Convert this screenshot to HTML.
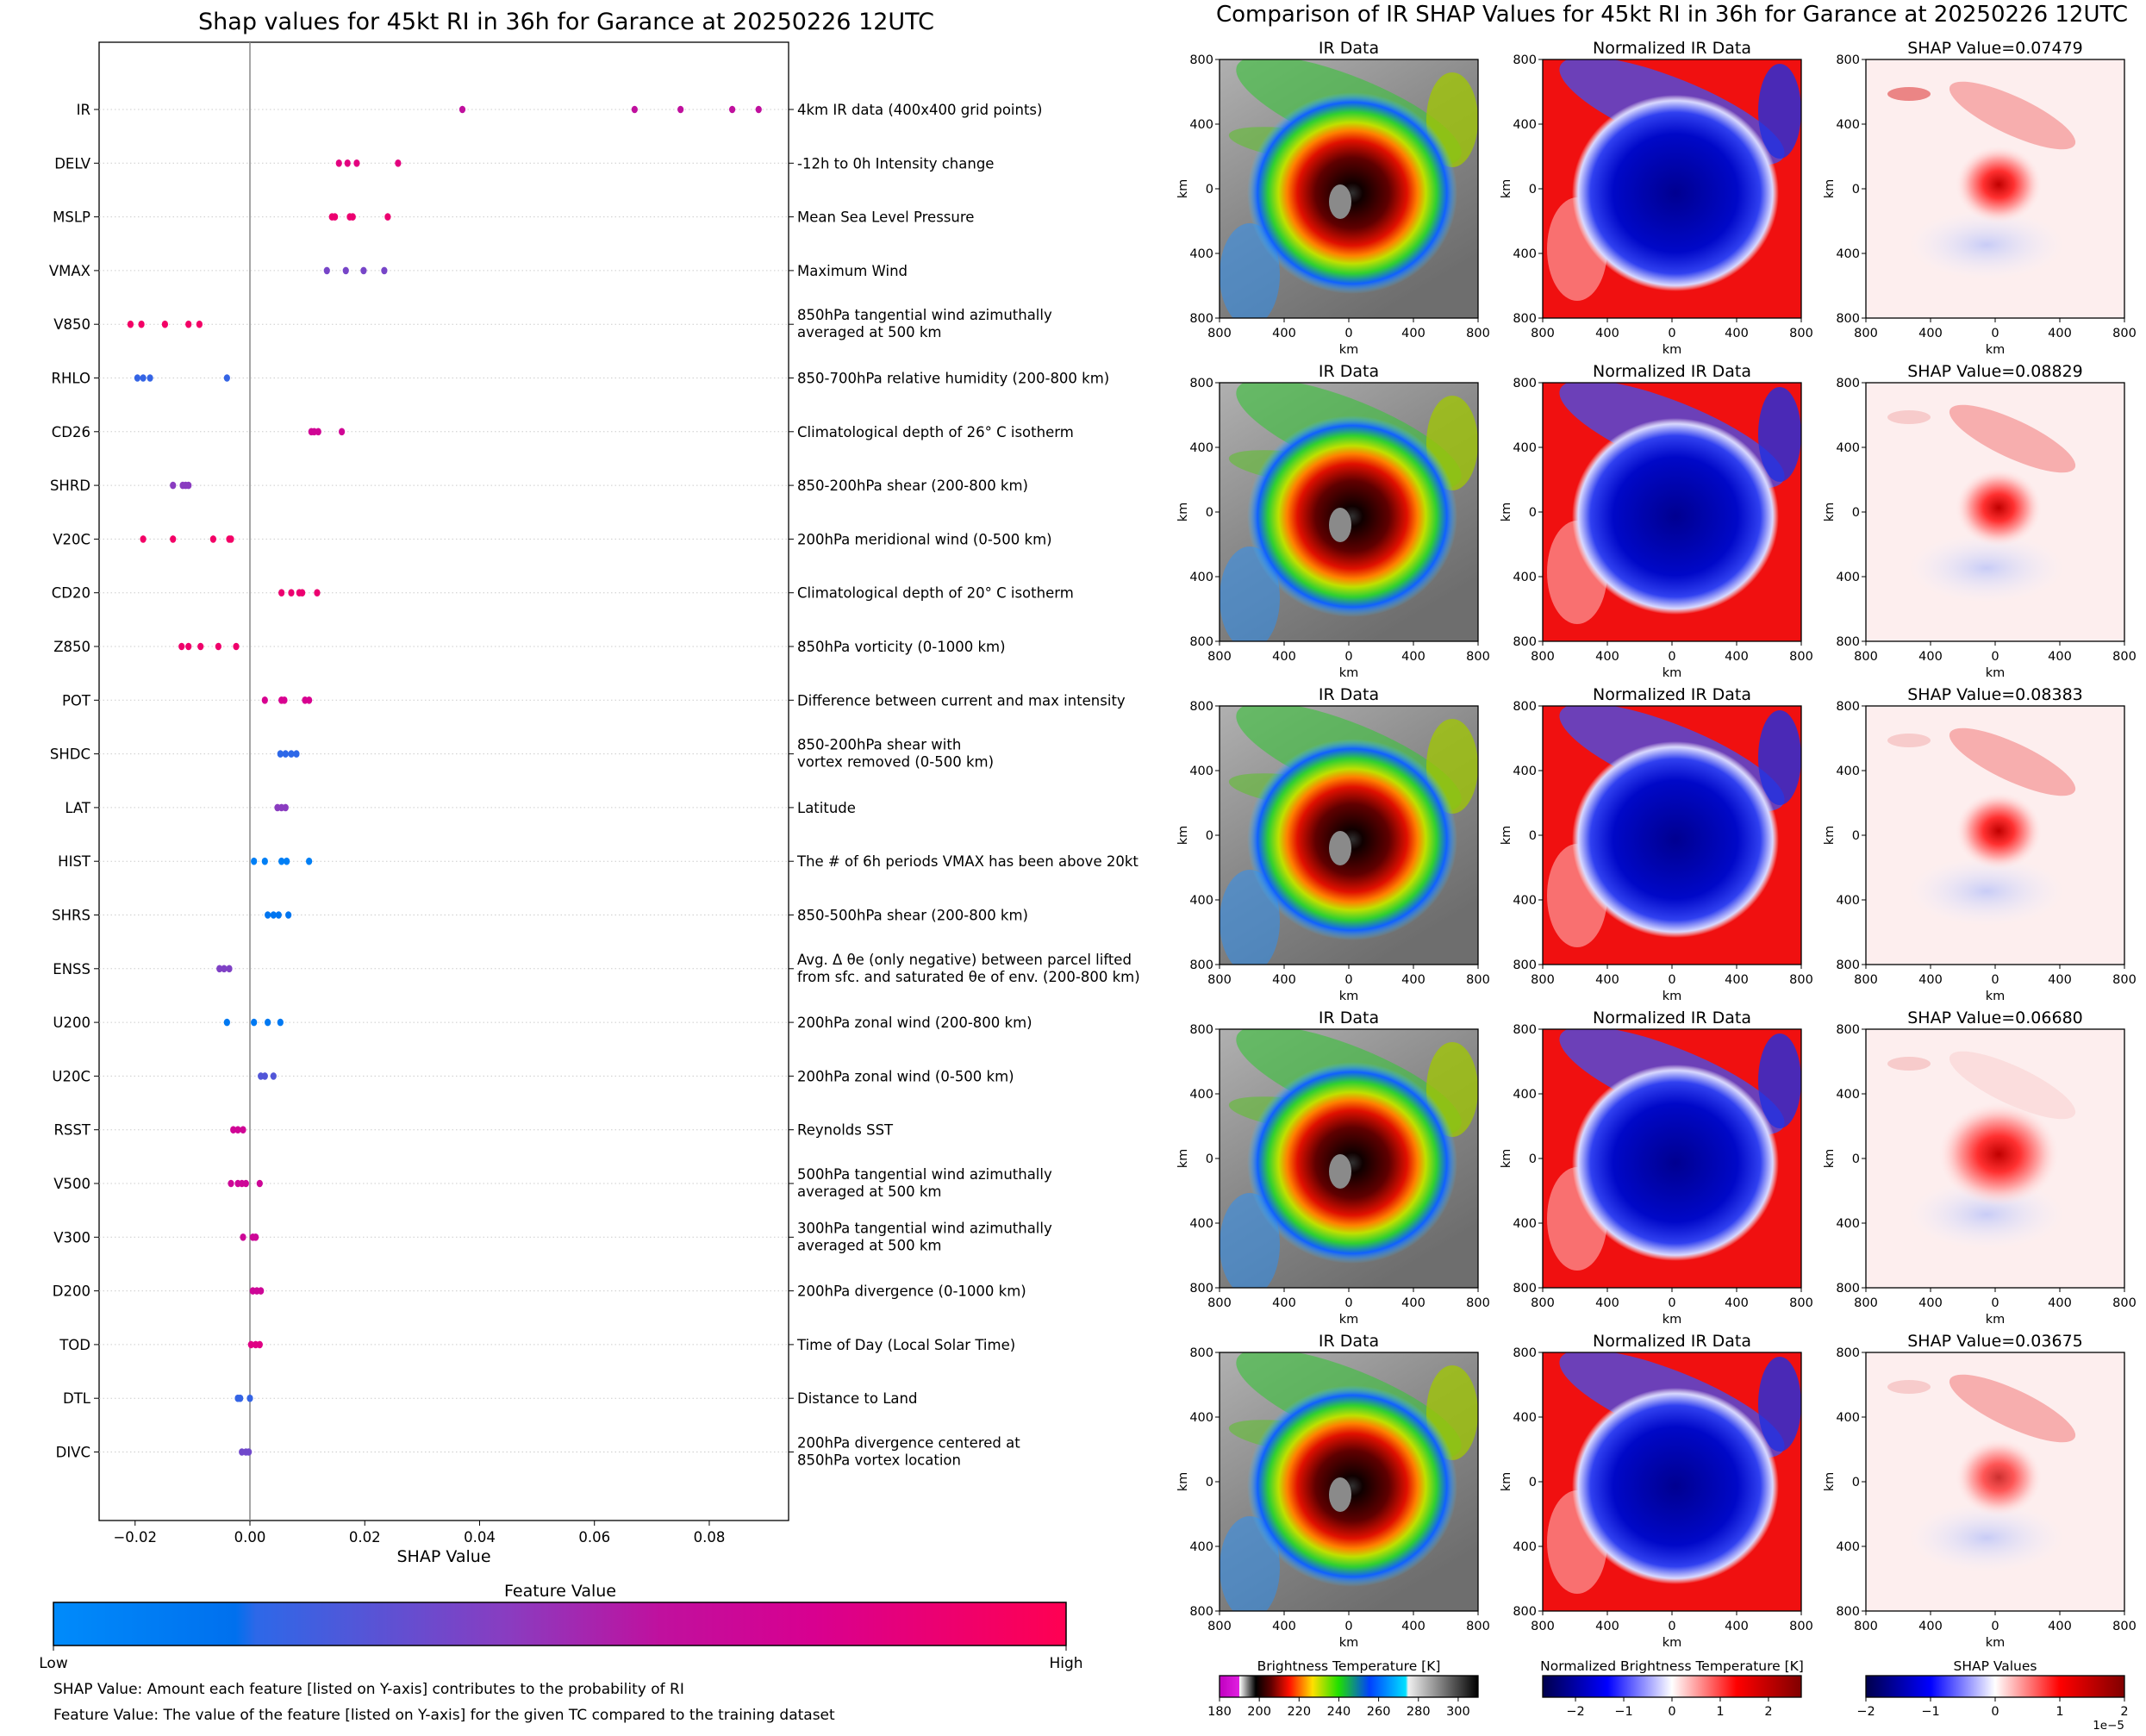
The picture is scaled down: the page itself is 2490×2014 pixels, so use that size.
<!DOCTYPE html>
<html><head><meta charset="utf-8"><style>
body{margin:0;background:#fff;}
svg text{font-family:"DejaVu Sans","Liberation Sans",sans-serif;fill:#000;}
</style></head><body>
<svg id="root" width="2490" height="2009" viewBox="0 0 2490 2009" xmlns="http://www.w3.org/2000/svg">
<defs>
<linearGradient id="fvgrad" x1="0" x2="1" y1="0" y2="0">
<stop offset="0" stop-color="#008bfb"/><stop offset="0.18" stop-color="#0070ee"/><stop offset="0.2" stop-color="#2d68e8"/><stop offset="0.45" stop-color="#8a3cc0"/><stop offset="0.6" stop-color="#c0109e"/><stop offset="0.75" stop-color="#d80090"/><stop offset="1" stop-color="#ff0052"/>
</linearGradient>
<linearGradient id="irgrad" x1="0" x2="1">
<stop offset="0" stop-color="#c000c0"/><stop offset="0.076" stop-color="#e020e0"/><stop offset="0.077" stop-color="#ffffff"/><stop offset="0.14" stop-color="#000"/><stop offset="0.2" stop-color="#600000"/><stop offset="0.27" stop-color="#ff1000"/><stop offset="0.36" stop-color="#ffe000"/><stop offset="0.46" stop-color="#20e000"/><stop offset="0.58" stop-color="#0040ff"/><stop offset="0.72" stop-color="#00e0ff"/><stop offset="0.73" stop-color="#f0f0f0"/><stop offset="1" stop-color="#000"/>
</linearGradient>
<linearGradient id="seisgrad" x1="0" x2="1">
<stop offset="0" stop-color="#00004c"/><stop offset="0.25" stop-color="#0000ff"/><stop offset="0.5" stop-color="#ffffff"/><stop offset="0.75" stop-color="#ff0000"/><stop offset="1" stop-color="#800000"/>
</linearGradient>
<linearGradient id="irbg" x1="0" y1="0" x2="0.6" y2="1">
<stop offset="0" stop-color="#b0b0b0"/><stop offset="0.5" stop-color="#8a8a8a"/><stop offset="1" stop-color="#6e6e6e"/>
</linearGradient>
<radialGradient id="irblob" cx="0.5" cy="0.5" r="0.5">
<stop offset="0" stop-color="#303030"/><stop offset="0.1" stop-color="#100000"/><stop offset="0.35" stop-color="#600000"/><stop offset="0.52" stop-color="#e01000"/><stop offset="0.62" stop-color="#ff8000"/><stop offset="0.7" stop-color="#c0e000"/><stop offset="0.8" stop-color="#30d030"/><stop offset="0.9" stop-color="#1060ff"/><stop offset="1" stop-color="#40c0ff" stop-opacity="0"/>
</radialGradient>
<radialGradient id="nblob" cx="0.5" cy="0.5" r="0.5">
<stop offset="0" stop-color="#000090"/><stop offset="0.6" stop-color="#0008c8"/><stop offset="0.82" stop-color="#3040f0"/><stop offset="0.94" stop-color="#d8d8ff"/><stop offset="1" stop-color="#ffffff" stop-opacity="0"/>
</radialGradient>
<radialGradient id="sblob" cx="0.5" cy="0.5" r="0.5">
<stop offset="0" stop-color="#c00000"/><stop offset="0.35" stop-color="#ff3030"/><stop offset="0.7" stop-color="#ffb0b0"/><stop offset="1" stop-color="#ffe8e8" stop-opacity="0"/>
</radialGradient>
<radialGradient id="sblue" cx="0.5" cy="0.5" r="0.5">
<stop offset="0" stop-color="#c8ccf6"/><stop offset="1" stop-color="#eeeefc" stop-opacity="0"/>
</radialGradient>
</defs>
<g id="left"></g>
<g id="right"></g>
</svg>
<script>
// ---------- SHAP beeswarm data ----------
const features = ["IR","DELV","MSLP","VMAX","V850","RHLO","CD26","SHRD","V20C","CD20","Z850","POT","SHDC","LAT","HIST","SHRS","ENSS","U200","U20C","RSST","V500","V300","D200","TOD","DTL","DIVC"];
const descriptions = [["4km IR data (400x400 grid points)"],["-12h to 0h Intensity change"],["Mean Sea Level Pressure"],["Maximum Wind"],["850hPa tangential wind azimuthally","averaged at 500 km"],["850-700hPa relative humidity (200-800 km)"],["Climatological depth of 26° C isotherm"],["850-200hPa shear (200-800 km)"],["200hPa meridional wind (0-500 km)"],["Climatological depth of 20° C isotherm"],["850hPa vorticity (0-1000 km)"],["Difference between current and max intensity"],["850-200hPa shear with","vortex removed (0-500 km)"],["Latitude"],["The # of 6h periods VMAX has been above 20kt"],["850-500hPa shear (200-800 km)"],["Avg. Δ θe (only negative) between parcel lifted","from sfc. and saturated θe of env. (200-800 km)"],["200hPa zonal wind (200-800 km)"],["200hPa zonal wind (0-500 km)"],["Reynolds SST"],["500hPa tangential wind azimuthally","averaged at 500 km"],["300hPa tangential wind azimuthally","averaged at 500 km"],["200hPa divergence (0-1000 km)"],["Time of Day (Local Solar Time)"],["Distance to Land"],["200hPa divergence centered at","850hPa vortex location"]];
const shapValues = [
[0.037,0.067,0.075,0.084,0.0886],
[0.0155,0.017,0.0186,0.0258],
[0.0143,0.0148,0.0174,0.0179,0.024],
[0.0134,0.0167,0.0198,0.0234],
[-0.0208,-0.0189,-0.0148,-0.0107,-0.0088],
[-0.0196,-0.0186,-0.0174,-0.004],
[0.0107,0.0112,0.0119,0.016],
[-0.0134,-0.0117,-0.0112,-0.0107],
[-0.0186,-0.0134,-0.0064,-0.0036,-0.0033],
[0.0055,0.0072,0.0086,0.0091,0.0117],
[-0.0119,-0.0107,-0.0086,-0.0055,-0.0024],
[0.0026,0.0055,0.006,0.0096,0.0103],
[0.0053,0.0062,0.0072,0.0081],
[0.0048,0.0055,0.0062],
[0.0007,0.0026,0.0055,0.0064,0.0103],
[0.0031,0.0041,0.005,0.0067],
[-0.0053,-0.0045,-0.0036],
[-0.004,0.0007,0.0031,0.0053],
[0.0019,0.0026,0.0041],
[-0.0029,-0.0021,-0.0012],
[-0.0033,-0.0021,-0.0014,-0.0007,0.0017],
[-0.0012,0.0005,0.001],
[0.0005,0.0012,0.0019],
[0.0002,0.001,0.0017],
[-0.0021,-0.0017,0.0],
[-0.0014,-0.0007,-0.0002]];
const featureValue = [0.6,0.82,0.88,0.4,0.92,0.22,0.7,0.45,0.92,0.88,0.9,0.75,0.2,0.45,0.08,0.15,0.42,0.12,0.3,0.7,0.68,0.68,0.68,0.8,0.22,0.38];
const xTicks = [-0.02,0.0,0.02,0.04,0.06,0.08];
const xTickLabels = ["−0.02","0.00","0.02","0.04","0.06","0.08"];

const NS="http://www.w3.org/2000/svg";
function mk(tag,attrs,parent,text){const e=document.createElementNS(NS,tag);for(const k in attrs)e.setAttribute(k,attrs[k]);if(text!==undefined)e.textContent=text;parent.appendChild(e);return e;}
const L=document.getElementById('left');
const AX={l:115,r:915,t:49,b:1764};
const xs=v=>290+v*6662;
const ys=i=>127+i*62.3;
function fvColor(t){
  const st=[[0,[0,139,251]],[0.18,[0,112,238]],[0.2,[45,104,232]],[0.45,[138,60,192]],[0.6,[192,16,158]],[0.75,[216,0,144]],[1,[255,0,82]]];
  for(let i=1;i<st.length;i++){if(t<=st[i][0]){const a=st[i-1],b=st[i],f=(t-a[0])/(b[0]-a[0]);return 'rgb('+a[1].map((c,j)=>Math.round(c+(b[1][j]-c)*f)).join(',')+')';}}
  return 'rgb(255,0,82)';
}
let e;
e=mk('text',{x:657,y:34,'font-size':27,'text-anchor':'middle'},L,'Shap values for 45kt RI in 36h for Garance at 20250226 12UTC');


e=mk('rect',{x:AX.l,y:AX.t,width:AX.r-AX.l,height:AX.b-AX.t,fill:'none',stroke:'#000','stroke-width':1.3},L);


e=mk('line',{x1:xs(0),x2:xs(0),y1:AX.t,y2:AX.b,stroke:'#888','stroke-width':1.5},L);


features.forEach((f,i)=>{
  const y=ys(i);
  const g=mk('g',{},L);
  
  
  mk('line',{x1:AX.l,x2:AX.r,y1:y,y2:y,stroke:'#ccc','stroke-width':1,'stroke-dasharray':'1.5 3'},g);
  mk('line',{x1:AX.l-6,x2:AX.l,y1:y,y2:y,stroke:'#000'},g);
  mk('line',{x1:AX.r,x2:AX.r+6,y1:y,y2:y,stroke:'#000'},g);
  e=mk('text',{x:AX.l-10,y:y+6,'font-size':16.5,'text-anchor':'end'},g,f);
  
  
  const d=descriptions[i];
  const lbl=mk('text',{x:AX.r+10,'font-size':16.5},g);
  
  
  d.forEach((s,k)=>{const yy=d.length===1?y+6:y-5+k*20;mk('tspan',{x:AX.r+10,y:yy},lbl,s);});
  shapValues[i].forEach(v=>{
    const c=mk('ellipse',{cx:xs(v),cy:y,rx:3.6,ry:4.3,fill:fvColor(featureValue[i])},g);
    
    
  });
});
xTicks.forEach((t,k)=>{
  mk('line',{x1:xs(t),x2:xs(t),y1:AX.b,y2:AX.b+6,stroke:'#000'},L);
  e=mk('text',{x:xs(t),y:1789,'font-size':16.5,'text-anchor':'middle'},L,xTickLabels[k]);
  
  
});
e=mk('text',{x:515,y:1812,'font-size':19,'text-anchor':'middle'},L,'SHAP Value');


e=mk('text',{x:650,y:1852,'font-size':19,'text-anchor':'middle'},L,'Feature Value');


e=mk('rect',{x:62,y:1859,width:1175,height:50,fill:'url(#fvgrad)',stroke:'#000','stroke-width':1.5},L);


mk('line',{x1:62,x2:62,y1:1909,y2:1915,stroke:'#000'},L);
mk('line',{x1:1237,x2:1237,y1:1909,y2:1915,stroke:'#000'},L);
e=mk('text',{x:62,y:1935,'font-size':17,'text-anchor':'middle'},L,'Low');


e=mk('text',{x:1237,y:1935,'font-size':17,'text-anchor':'middle'},L,'High');


e=mk('text',{x:62,y:1965,'font-size':17},L,'SHAP Value: Amount each feature [listed on Y-axis] contributes to the probability of RI');


e=mk('text',{x:62,y:1995,'font-size':17},L,'Feature Value: The value of the feature [listed on Y-axis] for the given TC compared to the training dataset');



// ---------- Right panels ----------
const shapTitles=["0.07479","0.08829","0.08383","0.06680","0.03675"];
const panelTitles=["IR Data","Normalized IR Data","SHAP Value="];
const R=document.getElementById('right');
e=mk('text',{x:1940,y:25,'font-size':26,'text-anchor':'middle'},R,'Comparison of IR SHAP Values for 45kt RI in 36h for Garance at 20250226 12UTC');


const colX=[1415,1790,2165];
const kmTicks=["800","400","0","400","800"];
const kmYTicks=["800","400","0","400","800"];
let cid=0;
function drawImage(g,x,y,type,row){
  const id='clip'+(cid++);
  const cp=mk('clipPath',{id:id},g);mk('rect',{x:x,y:y,width:300,height:300},cp);
  const h=mk('g',{'clip-path':'url(#'+id+')'},g);
  const cx=x+142,cy=y+150;
  if(type===0){
    mk('rect',{x:x,y:y,width:300,height:300,fill:'url(#irbg)'},h);
    mk('ellipse',{cx:x+35,cy:y+250,rx:35,ry:60,fill:'#3090f0',opacity:0.55},h);
    mk('ellipse',{cx:x+150,cy:y+60,rx:140,ry:40,fill:'#40c040',opacity:0.65,transform:'rotate(22 '+(x+150)+' '+(y+60)+')'},h);
    mk('ellipse',{cx:x+100,cy:y+100,rx:90,ry:18,fill:'#60c030',opacity:0.6,transform:'rotate(8 '+(x+100)+' '+(y+100)+')'},h);
    mk('ellipse',{cx:x+270,cy:y+70,rx:30,ry:55,fill:'#a0c800',opacity:0.75},h);
    mk('ellipse',{cx:cx+12,cy:cy+5,rx:122,ry:117,fill:'url(#irblob)'},h);
    mk('ellipse',{cx:cx-2,cy:cy+15,rx:13,ry:20,fill:'#8a8a8a'},h);
  }else if(type===1){
    mk('rect',{x:x,y:y,width:300,height:300,fill:'#f01010'},h);
    mk('ellipse',{cx:x+40,cy:y+220,rx:35,ry:60,fill:'#ffb0b0',opacity:0.6},h);
    mk('ellipse',{cx:x+150,cy:y+60,rx:140,ry:38,fill:'#4050f0',opacity:0.75,transform:'rotate(22 '+(x+150)+' '+(y+60)+')'},h);
    mk('ellipse',{cx:x+275,cy:y+60,rx:25,ry:55,fill:'#2030e0',opacity:0.8},h);
    mk('ellipse',{cx:cx+12,cy:cy+5,rx:120,ry:114,fill:'url(#nblob)'},h);
  }else{
    mk('rect',{x:x,y:y,width:300,height:300,fill:'#fdeeee'},h);
    mk('ellipse',{cx:x+140,cy:y+215,rx:90,ry:40,fill:'url(#sblue)'},h);
    mk('ellipse',{cx:x+170,cy:y+65,rx:80,ry:22,fill:'#f06060',opacity:row===3?0.12:0.45,transform:'rotate(25 '+(x+170)+' '+(y+65)+')'},h);
    mk('ellipse',{cx:x+50,cy:y+40,rx:25,ry:8,fill:'#e04040',opacity:row===0?0.6:0.2},h);
    mk('ellipse',{cx:cx+12,cy:cy-5,rx:row===3?70:50,ry:row===3?60:45,fill:'url(#sblob)',opacity:row===4?0.8:1},h);
  }
  mk('rect',{x:x,y:y,width:300,height:300,fill:'none',stroke:'#000','stroke-width':1.3},g);
}
for(let r=0;r<5;r++){
  const y=69+r*375;
  for(let c=0;c<3;c++){
    const x=colX[c];
    const g=mk('g',{},R);
    
    
    const t=c===2?panelTitles[2]+shapTitles[r]:panelTitles[c];
    e=mk('text',{x:x+150,y:y-7,'font-size':19,'text-anchor':'middle'},g,t);
    
    
    drawImage(g,x,y,c,r);
    kmTicks.forEach((s,k)=>{
      const tx=x+k*75;
      mk('line',{x1:tx,x2:tx,y1:y+300,y2:y+305,stroke:'#000'},g);
      mk('text',{x:tx,y:y+322,'font-size':14.5,'text-anchor':'middle'},g,s);
      const ty=y+k*75;
      mk('line',{x1:x-5,x2:x,y1:ty,y2:ty,stroke:'#000'},g);
      mk('text',{x:x-7,y:ty+5,'font-size':14.5,'text-anchor':'end'},g,kmYTicks[k]);
    });
    mk('text',{x:x+150,y:y+341,'font-size':14.5,'text-anchor':'middle'},g,'km');
    mk('text',{x:x-38,y:y+150,'font-size':14.5,'text-anchor':'middle',transform:'rotate(-90 '+(x-38)+' '+(y+150)+')'},g,'km');
  }
}
// colorbars
const cbDefs=[
 {x:1415,title:'Brightness Temperature [K]',fill:'url(#irgrad)',ticks:["180","200","220","240","260","280","300"],min:180,max:310,vals:[180,200,220,240,260,280,300]},
 {x:1790,title:'Normalized Brightness Temperature [K]',fill:'url(#seisgrad)',ticks:["−2","−1","0","1","2"],min:-2.68,max:2.68,vals:[-2,-1,0,1,2]},
 {x:2165,title:'SHAP Values',fill:'url(#seisgrad)',ticks:["−2","−1","0","1","2"],min:-2,max:2,vals:[-2,-1,0,1,2]}];
cbDefs.forEach((cb,i)=>{
  const g=mk('g',{},R);
  
  
  mk('text',{x:cb.x+150,y:1938,'font-size':15.5,'text-anchor':'middle'},g,cb.title);
  mk('rect',{x:cb.x,y:1944,width:300,height:25,fill:cb.fill,stroke:'#000','stroke-width':1.3},g);
  cb.vals.forEach((v,k)=>{
    const tx=cb.x+(v-cb.min)/(cb.max-cb.min)*300;
    mk('line',{x1:tx,x2:tx,y1:1969,y2:1974,stroke:'#000'},g);
    mk('text',{x:tx,y:1990,'font-size':14.5,'text-anchor':'middle'},g,cb.ticks[k]);
  });
});
e=mk('text',{x:2465,y:2006,'font-size':13.5,'text-anchor':'end'},R,'1e−5');


</script>
</body></html>
